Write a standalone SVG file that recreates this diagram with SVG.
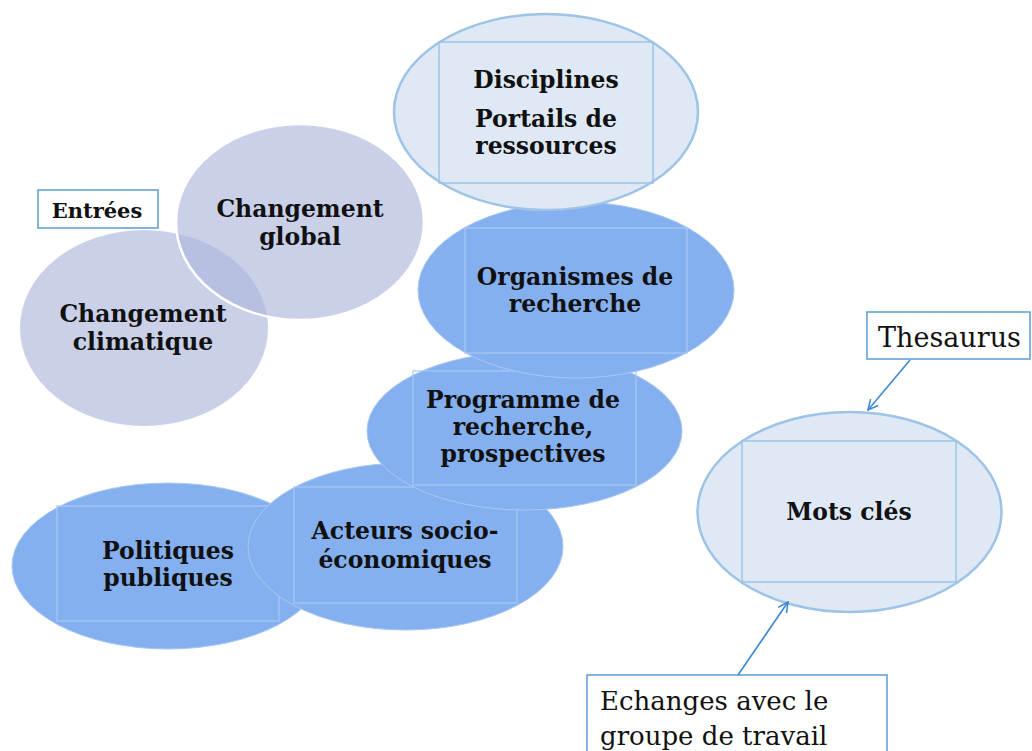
<svg xmlns="http://www.w3.org/2000/svg" width="1032" height="751" viewBox="0 0 1032 751">
<style>
.b{font-family:"DejaVu Serif","Liberation Serif",serif;font-weight:bold;font-size:23.5px;fill:#111;text-anchor:middle}
.r{font-family:"DejaVu Serif","Liberation Serif",serif;font-size:27px;fill:#111}
.blue{fill:#84b0f0;stroke:#a9c8f2;stroke-width:1}
.brect{fill:none;stroke:#a9c8f2;stroke-width:1.2}
.light{fill:#dfe9f6;stroke:#9dc3e6;stroke-width:2.5}
.lrect{fill:none;stroke:#9dc3e6;stroke-width:1.5}
.grey{fill:#adb8dc;fill-opacity:0.66}
.box{fill:#fff;stroke:#5b9bd5;stroke-width:1.5}
.conn{stroke:#3f87d4;stroke-width:1.6;fill:none}
</style>
<defs>
<marker id="arr" viewBox="0 0 12 12" refX="11" refY="6" markerWidth="12" markerHeight="12" markerUnits="userSpaceOnUse" orient="auto">
<path d="M1,1 L11,6 L1,11" fill="none" stroke="#3f87d4" stroke-width="1.6"/>
</marker>
</defs>
<rect width="1032" height="751" fill="#fff"/>
<g id="entrees">
<rect class="box" x="38" y="190" width="120" height="38"/>
<text class="b" x="97" y="218" style="font-size:21px">Entrées</text>
</g>
<g id="changement-climatique">
<ellipse class="grey" cx="144" cy="328" rx="124" ry="98"/>
<text class="b" x="143" y="322">Changement</text>
<text class="b" x="143" y="350">climatique</text>
</g>
<g id="changement-global">
<ellipse class="grey" cx="300" cy="222" rx="124" ry="98" stroke="#fff" stroke-width="2.5"/>
<text class="b" x="300" y="217">Changement</text>
<text class="b" x="300" y="245">global</text>
</g>
<g id="politiques">
<ellipse class="blue" cx="168" cy="566" rx="156" ry="83"/>
<rect class="brect" x="57" y="506" width="222" height="115"/>
<text class="b" x="168" y="559">Politiques</text>
<text class="b" x="168" y="586">publiques</text>
</g>
<g id="acteurs">
<ellipse class="blue" cx="405.5" cy="546.5" rx="157.5" ry="83.5"/>
<rect class="brect" x="294" y="487" width="223" height="116"/>
<text class="b" x="405" y="539">Acteurs socio-</text>
<text class="b" x="405" y="568">économiques</text>
</g>
<g id="programme">
<ellipse class="blue" cx="524.5" cy="431" rx="157.5" ry="79"/>
<rect class="brect" x="413" y="371" width="223" height="114"/>
<text class="b" x="523" y="408">Programme de</text>
<text class="b" x="523" y="435">recherche,</text>
<text class="b" x="523" y="462">prospectives</text>
</g>
<g id="organismes">
<ellipse class="blue" cx="576" cy="290" rx="158" ry="88"/>
<rect class="brect" x="465" y="228" width="222" height="125"/>
<text class="b" x="575" y="285">Organismes de</text>
<text class="b" x="575" y="312">recherche</text>
</g>
<g id="disciplines">
<ellipse class="light" cx="546" cy="112" rx="152" ry="98"/>
<rect class="lrect" x="439" y="42" width="214" height="141"/>
<text class="b" x="546" y="88">Disciplines</text>
<text class="b" x="546" y="127">Portails de</text>
<text class="b" x="546" y="154">ressources</text>
</g>
<g id="mots-cles">
<ellipse class="light" cx="849.5" cy="512" rx="152" ry="100"/>
<rect class="lrect" x="742" y="441" width="214" height="141"/>
<text class="b" x="849" y="520">Mots clés</text>
</g>
<g id="thesaurus">
<rect class="box" x="867" y="312" width="163" height="47"/>
<text class="r" x="878" y="347">Thesaurus</text>
</g>
<g id="echanges">
<rect class="box" x="587" y="675" width="300" height="80"/>
<text class="r" x="600" y="710" style="font-size:26px">Echanges avec le</text>
<text class="r" x="600" y="745" style="font-size:26px">groupe de travail</text>
</g>
<g id="connectors">
<line class="conn" x1="910" y1="360" x2="868" y2="410" marker-end="url(#arr)"/>
<line class="conn" x1="738" y1="675" x2="788" y2="602" marker-end="url(#arr)"/>
</g>
</svg>
